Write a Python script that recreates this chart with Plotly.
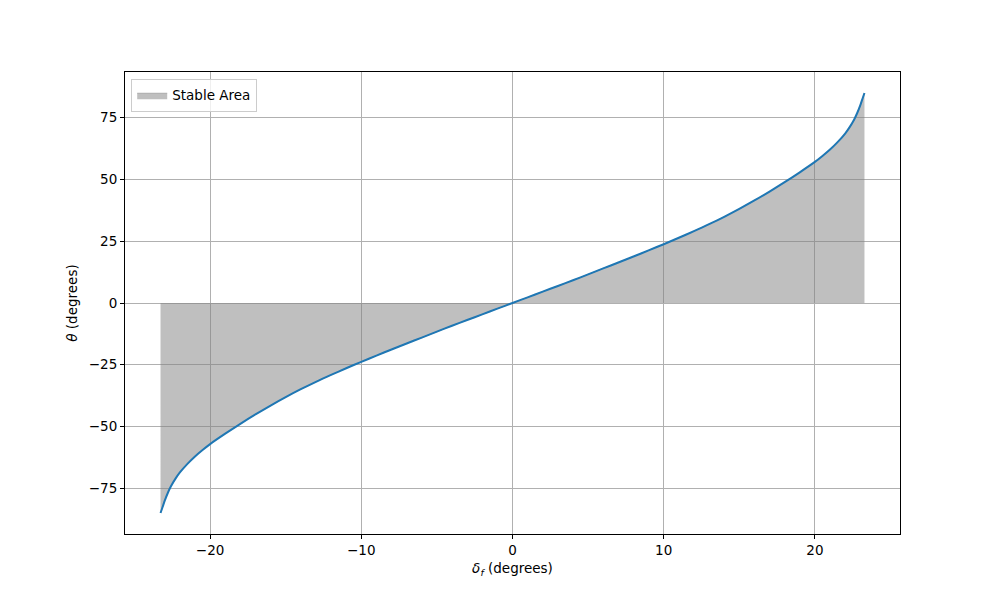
import plotly.graph_objects as go

# steering angle delta_f (degrees) and resulting theta (degrees)
delta_f = [-23.28, -23.2, -23.1, -23.0, -22.8, -22.6, -22.3, -22.0, -21.5, -21.0, -20.5,
           -20.0, -19.0, -18.0, -17.0, -16.0, -15.0, -14.0, -13.0, -12.0, -11.0, -10.0, -9.0,
           -8.0, -7.0, -6.0, -5.0, -4.0, -3.0, -2.0, -1.0, 0.0,
           1.0, 2.0, 3.0, 4.0, 5.0, 6.0, 7.0, 8.0, 9.0, 10.0, 11.0, 12.0, 13.0, 14.0, 15.0,
           16.0, 17.0, 18.0, 19.0, 20.0, 20.5, 21.0, 21.5, 22.0, 22.3, 22.6, 22.8, 23.0, 23.1,
           23.2, 23.28]
theta = [-85.0, -83.6, -81.8, -80.0, -76.9, -74.3, -71.2, -68.6, -65.1, -62.1, -59.5,
         -57.1, -52.9, -48.9, -45.1, -41.5, -38.1, -34.9, -31.9, -29.1, -26.4, -23.8, -21.3,
         -18.8, -16.4, -14.0, -11.6, -9.2, -6.9, -4.6, -2.3, 0.0,
         2.3, 4.6, 6.9, 9.2, 11.6, 14.0, 16.4, 18.8, 21.3, 23.8, 26.4, 29.1, 31.9, 34.9, 38.1,
         41.5, 45.1, 48.9, 52.9, 57.1, 59.5, 62.1, 65.1, 68.6, 71.2, 74.3, 76.9, 80.0, 81.8,
         83.6, 85.0]

x_ticks = [-20, -10, 0, 10, 20]
y_ticks = [-75, -50, -25, 0, 25, 50, 75]

FONT = "DejaVu Sans"

fig = go.Figure()

# stable area: region between curve and zero
fig.add_trace(go.Scatter(
    x=delta_f, y=theta,
    fill="tozeroy",
    mode="lines",
    fillcolor="rgba(128,128,128,0.5)",
    line=dict(color="rgba(128,128,128,0.5)", width=1, shape="spline", smoothing=0.8),
    name="Stable Area",
    showlegend=True,
    hoverinfo="skip",
))

fig.add_trace(go.Scatter(
    x=delta_f, y=theta, mode="lines",
    line=dict(color="#1f77b4", width=2, shape="spline", smoothing=0.8),
    showlegend=False,
))

axis_common = dict(
    showline=True, linecolor="black", linewidth=1, mirror=True,
    ticks="outside", ticklen=4, tickwidth=1, tickcolor="black",
    showgrid=True, gridcolor="#b0b0b0", gridwidth=0.8,
    zeroline=False,
    tickfont=dict(family=FONT, size=13.5, color="black"),
)

fig.update_xaxes(
    range=[-25.63, 25.63], tickvals=x_ticks,
    title=dict(text="<i>δ</i><sub><i>f</i></sub> (degrees)", font=dict(family=FONT, size=13.5, color="black"), standoff=6),
    **axis_common,
)
fig.update_yaxes(
    range=[-93.5, 93.5], tickvals=y_ticks,
    title=dict(text="<i>θ</i> (degrees)", font=dict(family=FONT, size=13.5, color="black"), standoff=8),
    **axis_common,
)

fig.update_layout(
    width=1000, height=600,
    margin=dict(l=117, r=108, t=64, b=74),
    paper_bgcolor="white", plot_bgcolor="white",
    font=dict(family=FONT, size=13.5, color="black"),
    legend=dict(
        x=0.008, y=0.985, xanchor="left", yanchor="top",
        bgcolor="rgba(255,255,255,0.8)", bordercolor="#cccccc", borderwidth=1,
        font=dict(family=FONT, size=13.5, color="black"),
        itemwidth=30,
    ),
)

fig.write_html("out.html")
